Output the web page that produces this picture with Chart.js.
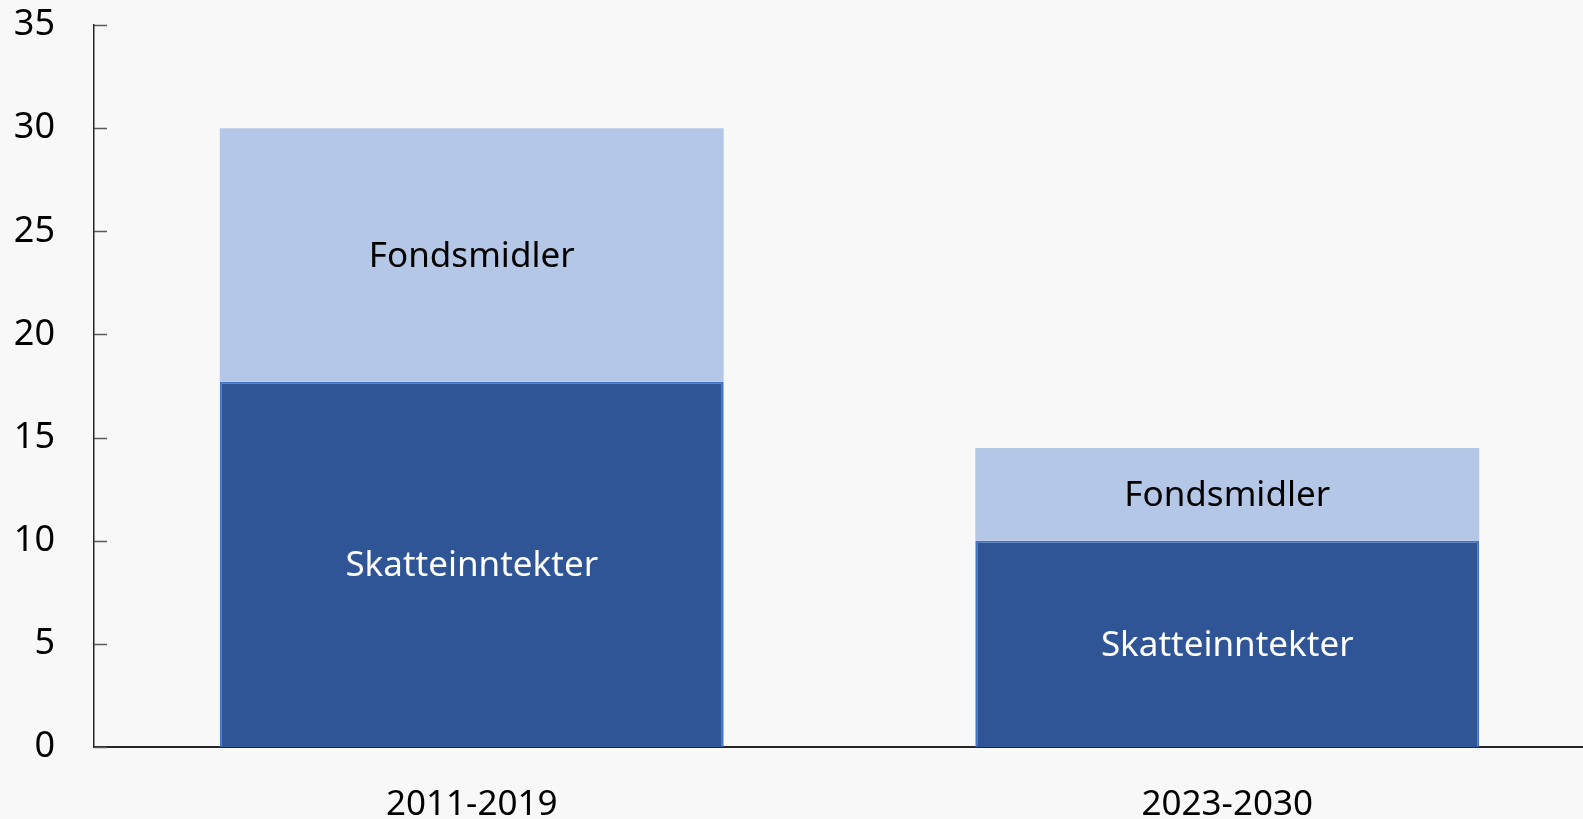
<!DOCTYPE html>
<html lang="no">
<head>
    <meta charset="UTF-8">
    <title>Skatteinntekter og fondsmidler</title>
    <script src="https://cdn.jsdelivr.net/npm/chart.js"></script>
    <style>
        html, body { margin: 0; padding: 0; background: #f8f8f8; overflow: hidden; }
        /* plot area runs a little past the right edge of the window, as in the original */
        #wrap { width: 1605px; height: 819px; position: relative; }
    </style>
</head>
<body>
    <div id="wrap"><canvas id="chart"></canvas></div>

    <script>
        // data
        const periods = ['2011-2019', '2023-2030'];
        const skatteinntekter = [17.7, 10];
        const fondsmidler = [12.3, 4.5];
        const yTicks = [0, 5, 10, 15, 20, 25, 30, 35];

        const FONT = '"Noto Sans", "Open Sans", sans-serif';

        // label in the middle of each bar segment
        const segmentLabels = {
            id: 'segmentLabels',
            afterDatasetsDraw(chart) {
                const ctx = chart.ctx;
                ctx.save();
                ctx.font = '35px ' + FONT;
                ctx.textAlign = 'center';
                ctx.textBaseline = 'middle';
                chart.data.datasets.forEach((ds, i) => {
                    const meta = chart.getDatasetMeta(i);
                    ctx.fillStyle = ds.labelColor;
                    meta.data.forEach(bar => {
                        ctx.fillText(ds.label, bar.x, (bar.y + bar.base) / 2 + 2);
                    });
                });
                ctx.restore();
            }
        };

        // short tick marks drawn on the inside of the y axis
        const innerTicks = {
            id: 'innerTicks',
            afterDraw(chart) {
                const ctx = chart.ctx;
                const y = chart.scales.y;
                const x0 = chart.chartArea.left;
                ctx.save();
                ctx.strokeStyle = '#595959';
                ctx.lineWidth = 1.5;
                yTicks.forEach(v => {
                    const py = Math.round(y.getPixelForValue(v)) + 0.5;
                    ctx.beginPath();
                    ctx.moveTo(x0, py);
                    ctx.lineTo(x0 + 13, py);
                    ctx.stroke();
                });
                ctx.restore();
            }
        };

        new Chart(document.getElementById('chart'), {
            type: 'bar',
            data: {
                labels: periods,
                datasets: [
                    {
                        label: 'Skatteinntekter',
                        data: skatteinntekter,
                        backgroundColor: '#2f5597',
                        borderColor: '#4472c4',
                        borderWidth: 2,
                        labelColor: '#ffffff'
                    },
                    {
                        label: 'Fondsmidler',
                        data: fondsmidler,
                        backgroundColor: '#b4c7e7',
                        borderWidth: 0,
                        labelColor: '#000000'
                    }
                ]
            },
            options: {
                responsive: true,
                maintainAspectRatio: false,
                animation: false,
                layout: { padding: { top: 25, right: 0, left: 0, bottom: 0 } },
                datasets: {
                    bar: { barPercentage: 0.667, categoryPercentage: 1 }
                },
                plugins: {
                    legend: { display: false },
                    tooltip: { enabled: false }
                },
                scales: {
                    x: {
                        stacked: true,
                        grid: { display: false },
                        border: { display: true, color: '#262626', width: 2 },
                        ticks: { color: '#000', font: { family: FONT, size: 35 }, padding: 29 },
                        afterFit(scale) {
                            scale.height = 72;
                            scale.paddingLeft = 0;
                            scale.paddingRight = 0;
                        }
                    },
                    y: {
                        stacked: true,
                        min: 0,
                        max: 35,
                        grid: { display: false },
                        border: { display: true, color: '#262626', width: 1.5 },
                        afterBuildTicks(scale) { scale.ticks = yTicks.map(v => ({ value: v })); },
                        ticks: { color: '#000', font: { family: FONT, size: 36 }, padding: 31 },
                        afterFit(scale) {
                            scale.width = 94;
                            scale.paddingTop = 0;
                            scale.paddingBottom = 0;
                        }
                    }
                }
            },
            plugins: [segmentLabels, innerTicks]
        });
    </script>
</body>
</html>
